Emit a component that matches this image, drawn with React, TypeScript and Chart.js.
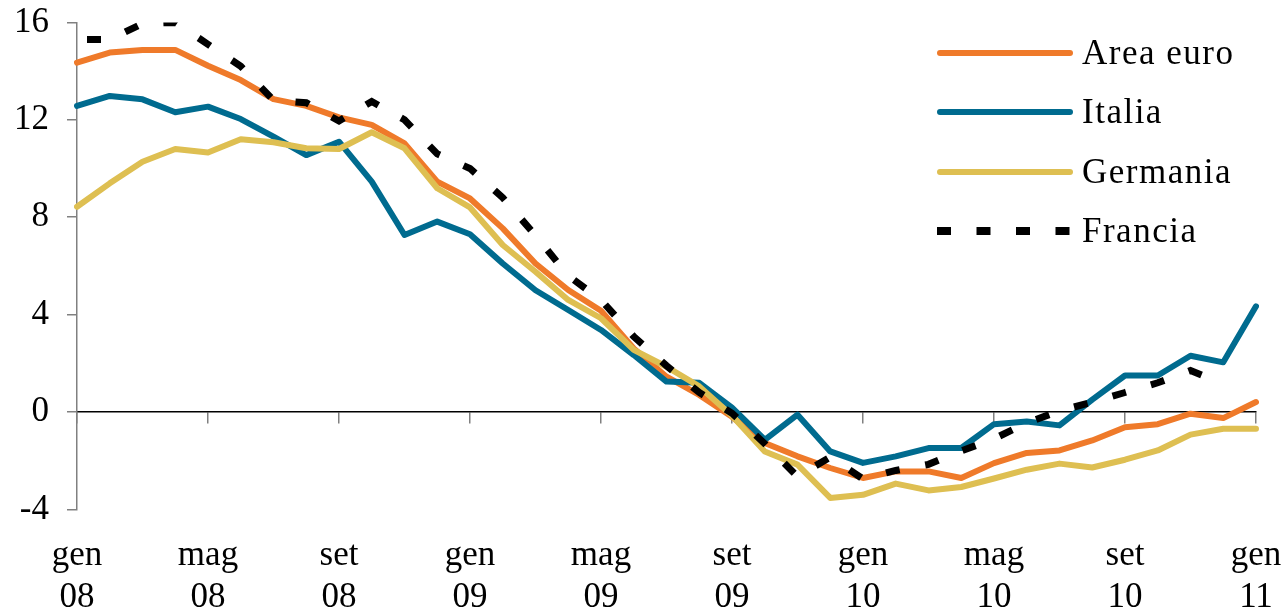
import React, { useEffect, useRef } from 'react';
import { Chart, registerables } from 'chart.js';

Chart.register(...registerables);

const MONTHS = ['gen', 'feb', 'mar', 'apr', 'mag', 'giu', 'lug', 'ago', 'set', 'ott', 'nov', 'dic'];
const YEARS = ['08', '09', '10', '11'];
const categories: string[] = Array.from({ length: 37 }, (_, i) => `${MONTHS[i % 12]} ${YEARS[Math.floor(i / 12)]}`);

const areaEuro = [14.35, 14.76, 14.87, 14.87, 14.22, 13.63, 12.85, 12.57, 12.1, 11.79, 11.03, 9.46, 8.77, 7.54, 6.1, 5.01, 4.16, 2.61, 1.45, 0.7, -0.2, -1.27, -1.82, -2.3, -2.71, -2.44, -2.44, -2.71, -2.1, -1.68, -1.58, -1.17, -0.63, -0.5, -0.07, -0.25, 0.41];
const italia = [12.57, 12.98, 12.84, 12.31, 12.54, 12.03, 11.31, 10.55, 11.1, 9.46, 7.27, 7.82, 7.3, 6.1, 5.0, 4.19, 3.37, 2.34, 1.25, 1.2, 0.18, -1.14, -0.11, -1.62, -2.09, -1.82, -1.48, -1.48, -0.5, -0.39, -0.55, 0.51, 1.5, 1.5, 2.31, 2.04, 4.34];
const germania = [8.43, 9.39, 10.28, 10.8, 10.66, 11.2, 11.08, 10.83, 10.8, 11.49, 10.83, 9.19, 8.4, 6.86, 5.76, 4.6, 3.85, 2.55, 1.86, 1.05, -0.15, -1.62, -2.16, -3.53, -3.4, -2.94, -3.22, -3.08, -2.73, -2.37, -2.12, -2.28, -1.96, -1.58, -0.93, -0.69, -0.69];
const francia: (number | null)[] = [15.3, 15.3, 15.95, 16.0, 15.1, 14.2, 12.8, 12.7, 11.95, 12.75, 12.0, 10.6, 10.0, 8.8, 7.25, 5.6, 4.6, 3.1, 1.9, 0.8, -0.05, -1.3, -2.65, -1.85, -2.75, -2.4, -2.15, -1.6, -1.1, -0.45, 0.05, 0.4, 0.8, 1.2, 1.7, 1.15, null];

const Y_MIN = -4;
const Y_MAX = 16;
const Y_STEP = 4;

const ORANGE = '#EF7A2A';
const BLUE = '#006B8F';
const GOLD = '#DEBF52';
const BLACK = '#000000';
const FONT = '"Liberation Serif", "Times New Roman", serif';

const legendItems = [
  { label: 'Area euro', color: ORANGE, dashed: false },
  { label: 'Italia', color: BLUE, dashed: false },
  { label: 'Germania', color: GOLD, dashed: false },
  { label: 'Francia', color: BLACK, dashed: true },
];

export default function App() {
  const canvasRef = useRef<HTMLCanvasElement | null>(null);

  useEffect(() => {
    if (!canvasRef.current) return;
    const chart = new Chart(canvasRef.current, {
      type: 'line',
      data: {
        labels: categories,
        datasets: [
          { label: 'Area euro', data: areaEuro, borderColor: ORANGE, backgroundColor: ORANGE, borderWidth: 6, order: 3, borderCapStyle: 'round', borderJoinStyle: 'round', pointRadius: 0, tension: 0 },
          { label: 'Italia', data: italia, borderColor: BLUE, backgroundColor: BLUE, borderWidth: 6, order: 2, borderCapStyle: 'round', borderJoinStyle: 'round', pointRadius: 0, tension: 0 },
          { label: 'Germania', data: germania, borderColor: GOLD, backgroundColor: GOLD, borderWidth: 6, order: 1, borderCapStyle: 'round', borderJoinStyle: 'round', pointRadius: 0, tension: 0 },
          { label: 'Francia', data: francia, borderColor: BLACK, backgroundColor: BLACK, borderWidth: 7, borderDash: [14, 26], borderDashOffset: 30, order: 0, borderCapStyle: 'butt', borderJoinStyle: 'miter', pointRadius: 0, tension: 0, spanGaps: false },
        ],
      },
      options: {
        animation: false,
        responsive: true,
        maintainAspectRatio: false,
        devicePixelRatio: 1,
        layout: { padding: { top: 22.4, right: 30, left: 0, bottom: 0 } },
        plugins: { legend: { display: false }, tooltip: { enabled: false } },
        scales: {
          x: {
            type: 'category',
            position: 'bottom',
            grid: { display: false },
            border: { display: false },
            ticks: {
              autoSkip: false,
              maxRotation: 0,
              minRotation: 0,
              padding: 17,
              color: '#000',
              font: { family: FONT, size: 35, lineHeight: 1.2 },
              callback: (_v: any, index: number) => (index % 4 === 0 ? categories[index].split(' ') : ''),
            },
            afterFit: (s: any) => { s.height = 102.6; s.paddingLeft = 0; s.paddingRight = 0; },
          },
          x2: {
            type: 'category',
            position: { y: 0 },
            grid: {
              drawOnChartArea: false,
              drawTicks: true,
              tickLength: 11,
              tickWidth: 1.5,
              lineWidth: 1.5,
              tickColor: (ctx: any) => (ctx.index % 4 === 0 ? '#808080' : 'rgba(0,0,0,0)'),
            },
            border: { display: true, color: '#000', width: 1.5 },
            ticks: { display: false, autoSkip: false },
          },
          y: {
            type: 'linear',
            position: 'left',
            min: Y_MIN,
            max: Y_MAX,
            grid: { drawOnChartArea: false, drawTicks: true, tickLength: 10, color: '#808080', lineWidth: 1.5 },
            border: { display: true, color: '#808080', width: 1.5 },
            ticks: { stepSize: Y_STEP, padding: 18, color: '#000', font: { family: FONT, size: 35 } },
            afterFit: (s: any) => { s.width = 77; s.paddingTop = 0; s.paddingBottom = 0; },
          },
        },
      } as any,
    });
    return () => chart.destroy();
  }, []);

  const rowY = [53, 112, 172, 231];

  return (
    <div style={{ position: 'fixed', left: 0, top: 0, width: 1286, height: 612, background: '#fff' }}>
      <canvas ref={canvasRef} style={{ position: 'absolute', left: 0, top: 0, width: 1286, height: 612 }} />
      {legendItems.map((it, i) => (
        <div key={it.label} style={{ position: 'absolute', left: 937, top: rowY[i] - 25, height: 50, display: 'flex', alignItems: 'center' }}>
          <svg width={136} height={12} style={{ display: 'block' }}>
            {it.dashed ? (
              <line x1={0} y1={6} x2={136} y2={6} stroke={it.color} strokeWidth={8} strokeDasharray="14 25.5" />
            ) : (
              <line x1={3} y1={6} x2={133} y2={6} stroke={it.color} strokeWidth={6} strokeLinecap="round" />
            )}
          </svg>
          <span style={{ marginLeft: 9, fontFamily: FONT, fontSize: 35, lineHeight: '50px', letterSpacing: 1.5, color: '#000', whiteSpace: 'nowrap' }}>{it.label}</span>
        </div>
      ))}
    </div>
  );
}
